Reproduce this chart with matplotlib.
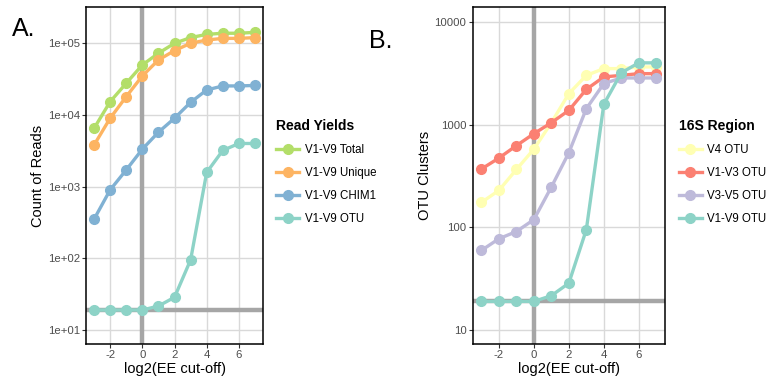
import numpy as np
import matplotlib
matplotlib.use("Agg")
import matplotlib.pyplot as plt
from matplotlib.ticker import FixedLocator, FixedFormatter, NullLocator

plt.rcParams['font.family'] = ['Liberation Sans', 'DejaVu Sans']
plt.rcParams['axes.unicode_minus'] = False

x = [-3, -2, -1, 0, 1, 2, 3, 4, 5, 6, 7]

# panel A: read yields
total = [6500, 15300, 27700, 49800, 72600, 100000, 120000, 133000, 138000, 138000, 142000]
unique = [3800, 9000, 18000, 35000, 58500, 79000, 100000, 111000, 117000, 117000, 120000]
chim1 = [351, 900, 1710, 3330, 5740, 9000, 15000, 22300, 25400, 25400, 25800]
otu_v19 = [19, 19, 19, 19, 21.6, 28.6, 95, 1580, 3200, 4000, 4000]

# panel B: OTU clusters per region
v4 = [175, 229, 366, 578, 1045, 2005, 3020, 3515, 3515, 3650, 3650]
v13 = [370, 473, 625, 817, 1045, 1378, 2208, 2917, 3020, 3140, 3140]
v35 = [59.6, 77.5, 91, 119, 247, 533, 1432, 2512, 2850, 2850, 2850]

ref_x = 0
ref_y = 19

left_series = [("V1-V9 Total", total, "#b3de69"),
               ("V1-V9 Unique", unique, "#fdb462"),
               ("V1-V9 CHIM1", chim1, "#80b1d3"),
               ("V1-V9 OTU", otu_v19, "#8dd3c7")]
right_series = [("V4 OTU", v4, "#ffffb3"),
                ("V1-V3 OTU", v13, "#fb8072"),
                ("V3-V5 OTU", v35, "#bebada"),
                ("V1-V9 OTU", otu_v19, "#8dd3c7")]

fig = plt.figure(figsize=(7.72, 3.82), dpi=100)
axA = fig.add_axes([0.1114, 0.0995, 0.2293, 0.8822])
axB = fig.add_axes([0.6123, 0.0995, 0.2491, 0.8822])


def style(ax, series, yticks, ylabels, ylim, ylabel):
    ax.set_yscale('log')
    ax.set_xlim(-3.5, 7.5)
    ax.set_ylim(*ylim)
    ax.xaxis.set_major_locator(FixedLocator([-2, 0, 2, 4, 6]))
    ax.yaxis.set_major_locator(FixedLocator(yticks))
    ax.yaxis.set_major_formatter(FixedFormatter(ylabels))
    ax.yaxis.set_minor_locator(NullLocator())
    ax.grid(True, color="#d9d9d9", linewidth=1.0, zorder=0)
    ax.set_axisbelow(True)
    ax.axvline(ref_x, color="#a6a6a6", linewidth=3.2, zorder=1)
    ax.axhline(ref_y, color="#a6a6a6", linewidth=3.2, zorder=1)
    for name, vals, col in series:
        ax.plot(x, vals, color=col, linewidth=2.4, marker='o', markersize=7,
                label=name, zorder=3)
    ax.tick_params(axis='both', direction='out', length=3, width=0.8,
                   colors="#333333", labelsize=8.2, labelcolor="#4d4d4d", pad=1.5)
    for s in ax.spines.values():
        s.set_color("black")
        s.set_linewidth(1.1)
    ax.set_xlabel("log2(EE cut-off)", fontsize=10.5, labelpad=1)
    ax.set_ylabel(ylabel, fontsize=10.5, labelpad=2)


style(axA, left_series, [1e1, 1e2, 1e3, 1e4, 1e5],
      ["1e+01", "1e+02", "1e+03", "1e+04", "1e+05"],
      (10 ** 0.805, 10 ** 5.506), "Count of Reads")
style(axB, right_series, [10, 100, 1000, 10000],
      ["10", "100", "1000", "10000"],
      (10 ** 0.864, 10 ** 4.146), "OTU Clusters")

for ax, title, xpos in [(axA, "Read Yields", 0.352), (axB, "16S Region", 0.873)]:
    leg = ax.legend(loc='upper left', bbox_to_anchor=(xpos, 0.70),
                    bbox_transform=fig.transFigure, frameon=False,
                    title=title, fontsize=8.3, handlelength=2.0,
                    handletextpad=0.5, labelspacing=0.95, borderaxespad=0)
    leg.get_title().set_fontweight('bold')
    leg.get_title().set_fontsize(10)
    leg._legend_box.align = "left"

fig.text(0.016, 0.905, "A.", fontsize=18)
fig.text(0.478, 0.875, "B.", fontsize=18)

fig.savefig("out.png", dpi=100)
